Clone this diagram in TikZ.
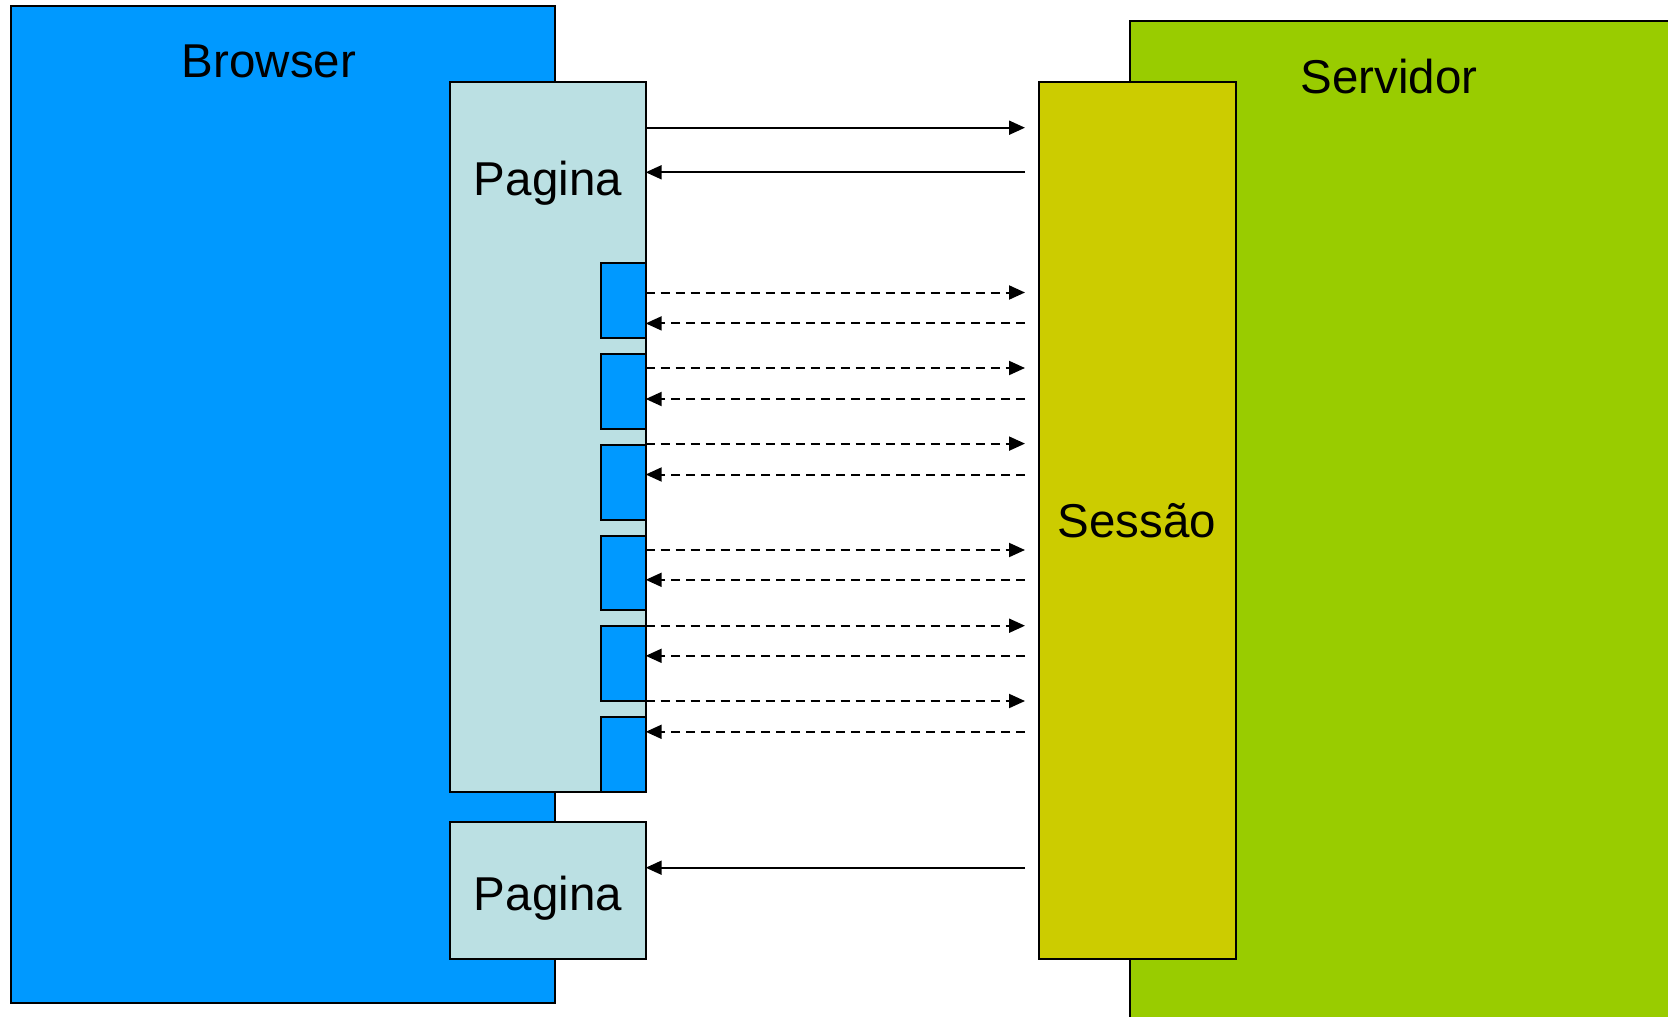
\documentclass[tikz,border=0pt]{standalone}
\usepackage{fontspec}
\setmainfont{Liberation Sans}
\usetikzlibrary{arrows.meta}
\definecolor{browserblue}{HTML}{0099FF}
\definecolor{pagecyan}{HTML}{BBE0E3}
\definecolor{sessionolive}{HTML}{CCCC00}
\definecolor{servergreen}{HTML}{99CC00}
\begin{document}
\begin{tikzpicture}[x=1pt,y=-1pt,
  panel/.style={draw=black,line width=2pt,inner sep=0pt,outer sep=0pt,anchor=north west},
  lbl/.style={font=\fontsize{47.5}{56}\selectfont,inner sep=0pt},
  call/.style={line width=2pt,-{Triangle[length=16pt,width=14pt]}},
  ajax/.style={call,dash pattern=on 9pt off 6pt}]

\useasboundingbox (0,0) rectangle (1668,1017);
\clip (0,0) rectangle (1668,1017);

% browser and server backgrounds
\node[panel,fill=browserblue,minimum width=544.7pt,minimum height=996.8pt] (browser) at (10.6,6.4) {};
\node[lbl] (browsertxt) at (269,61.7) {Browser};
\node[panel,fill=servergreen,minimum width=600pt,minimum height=1100pt] (server) at (1130,21.3) {};
\node[lbl] (servertxt) at (1389,76.6) {Servidor};

% first page with its asynchronous parts
\node[panel,fill=pagecyan,minimum width=195.7pt,minimum height=709.6pt] (page) at (450,81.9) {};
\node[lbl] (pagetxt) at (547.9,183) {Pagina};
\foreach \i in {0,...,5}
  \node[panel,fill=browserblue,minimum width=44.7pt,minimum height=74.8pt] (part\i) at (601,263+90.85*\i) {};

% second page
\node[panel,fill=pagecyan,minimum width=195.7pt,minimum height=136.2pt] (page2) at (450,822.3) {};
\node[lbl] (page2txt) at (547.9,898) {Pagina};

% session
\node[panel,fill=sessionolive,minimum width=196.9pt,minimum height=876.6pt] (session) at (1039.3,81.9) {};
\node[lbl] (sessiontxt) at (1137,521) {Sessão};

% request/response ends near the session
\coordinate (req) at (1025,127.7);
\coordinate (resp) at (1025,172.3);
\coordinate (resp2) at (1025,867.7);
\draw[call] (page.east |- req) -- (req);
\draw[call] (resp) -- (page.east |- resp);
\draw[call] (resp2) -- (page2.east |- resp2);

% asynchronous calls
\foreach \a/\b [count=\k] in {292.5/323.4,368/399,443.6/474.5,550/579.8,625.7/655.8,701/731.8}{
  \coordinate (areq\k) at (1025,\a);
  \coordinate (aresp\k) at (1025,\b);
  \draw[ajax] (page.east |- areq\k) -- (areq\k);
  \draw[ajax] (aresp\k) -- (page.east |- aresp\k);
}
\end{tikzpicture}
\end{document}
